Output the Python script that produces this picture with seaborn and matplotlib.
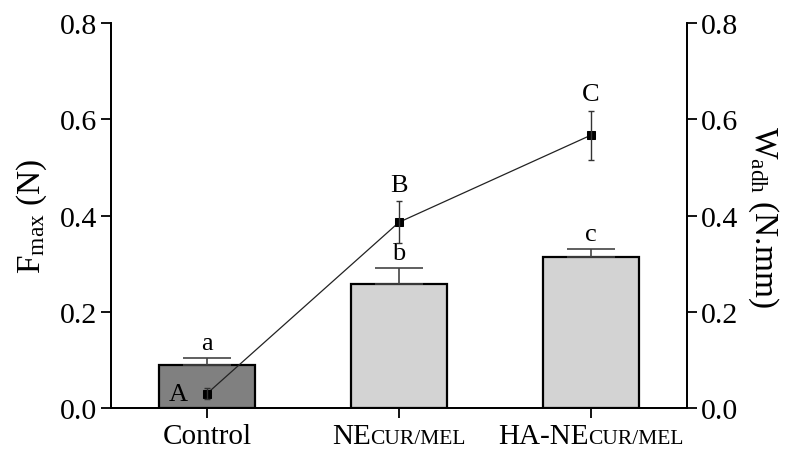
import matplotlib
matplotlib.use("Agg")
import matplotlib.pyplot as plt
import seaborn as sns
import pandas as pd
from matplotlib.offsetbox import TextArea, HPacker, AnnotationBbox

# Data
groups = ["Control", "NE", "HA-NE"]
fmax = [0.089, 0.258, 0.314]
fmax_err = [0.015, 0.033, 0.016]
wadh = [0.030, 0.386, 0.567]
wadh_err = [0.012, 0.044, 0.051]
fmax_letters = ["a", "b", "c"]
wadh_letters = ["A", "B", "C"]
bar_colors = ["#808080", "#d3d3d3", "#d3d3d3"]
yticks = [0.0, 0.2, 0.4, 0.6, 0.8]

sns.set_theme(style="ticks")
plt.rcParams["font.family"] = ["Liberation Serif", "DejaVu Serif"]
plt.rcParams["mathtext.fontset"] = "custom"
plt.rcParams["mathtext.rm"] = "Liberation Serif"
plt.rcParams["mathtext.it"] = "Liberation Serif:italic"
for key in ["text.color", "axes.labelcolor", "xtick.color", "ytick.color", "axes.edgecolor"]:
    plt.rcParams[key] = "black"

df = pd.DataFrame({"group": groups, "fmax": fmax})

fig = plt.figure(figsize=(7.98, 4.52), dpi=100)
ax = fig.add_axes([0.139, 0.095, 0.722, 0.852])

sns.barplot(data=df, x="group", y="fmax", hue="group", palette=bar_colors,
            width=0.5, edgecolor="black", linewidth=1.6, legend=False,
            errorbar=None, ax=ax, saturation=1)
ax.errorbar(range(len(groups)), fmax, yerr=[[0] * 3, fmax_err], fmt="none",
            ecolor="#444444", elinewidth=1.2, capsize=17, capthick=1.2, zorder=1)

ax.set_xlim(-0.5, 2.5)
ax.set_ylim(0, 0.8)
ax.set_yticks(yticks)
ax.set_yticklabels([f"{v:.1f}" for v in yticks])
ax.tick_params(axis="y", labelsize=21.5, length=7, width=1.3, direction="out", pad=3)
ax.tick_params(axis="x", length=7, width=1.3, direction="out", labelbottom=False)
ax.set_xlabel("")
ax.set_ylabel(r"F$_{\mathrm{max}}$ (N)", fontsize=24, labelpad=8)
for s in ["left", "bottom", "right"]:
    ax.spines[s].set_linewidth(1.3)
ax.spines["top"].set_visible(False)

# Category labels with small-caps suffix
label_parts = [("Control", ""), ("NE", "CUR/MEL"), ("HA-NE", "CUR/MEL")]
for i, (main, small) in enumerate(label_parts):
    boxes = [TextArea(main, textprops=dict(fontsize=21, family="Liberation Serif"))]
    if small:
        boxes.append(TextArea(small, textprops=dict(fontsize=15.5, family="Liberation Serif")))
    pack = HPacker(children=boxes, align="baseline", pad=0, sep=0)
    ab = AnnotationBbox(pack, (i, 0), xycoords=("data", "axes fraction"),
                        xybox=(0, -11), boxcoords="offset points",
                        box_alignment=(0.5, 1), frameon=False)
    ax.add_artist(ab)

for i, (v, e, t) in enumerate(zip(fmax, fmax_err, fmax_letters)):
    ax.annotate(t, (i, v + e), xytext=(0, 3), textcoords="offset points",
                ha="center", va="bottom", fontsize=19)

# Work of adhesion on the secondary axis
ax2 = ax.twinx()
sns.lineplot(x=list(range(len(groups))), y=wadh, color="#222222", linewidth=0.9,
             marker="s", markersize=6, markeredgecolor="black",
             markerfacecolor="black", ax=ax2)
ax2.errorbar(range(len(groups)), wadh, yerr=wadh_err, fmt="none",
             ecolor="#333333", elinewidth=1.0, capsize=2.5, capthick=1.0)
ax2.set_ylim(0, 0.8)
ax2.set_yticks(yticks)
ax2.set_yticklabels([f"{v:.1f}" for v in yticks])
ax2.tick_params(axis="y", labelsize=21.5, length=7, width=1.3, direction="out", pad=3)
ax2.set_ylabel(r"W$_{\mathrm{adh}}$ (N.mm)", fontsize=24, rotation=270, labelpad=30)
for s in ["left", "bottom", "right"]:
    ax2.spines[s].set_linewidth(1.3)
ax2.spines["top"].set_visible(False)

ax2.annotate(wadh_letters[0], (0, wadh[0]), xytext=(-14, 0), textcoords="offset points",
             ha="right", va="center", fontsize=19)
for i in (1, 2):
    ax2.annotate(wadh_letters[i], (i, wadh[i] + wadh_err[i]), xytext=(0, 4),
                 textcoords="offset points", ha="center", va="bottom", fontsize=19)

fig.savefig("out.png", dpi=100)
